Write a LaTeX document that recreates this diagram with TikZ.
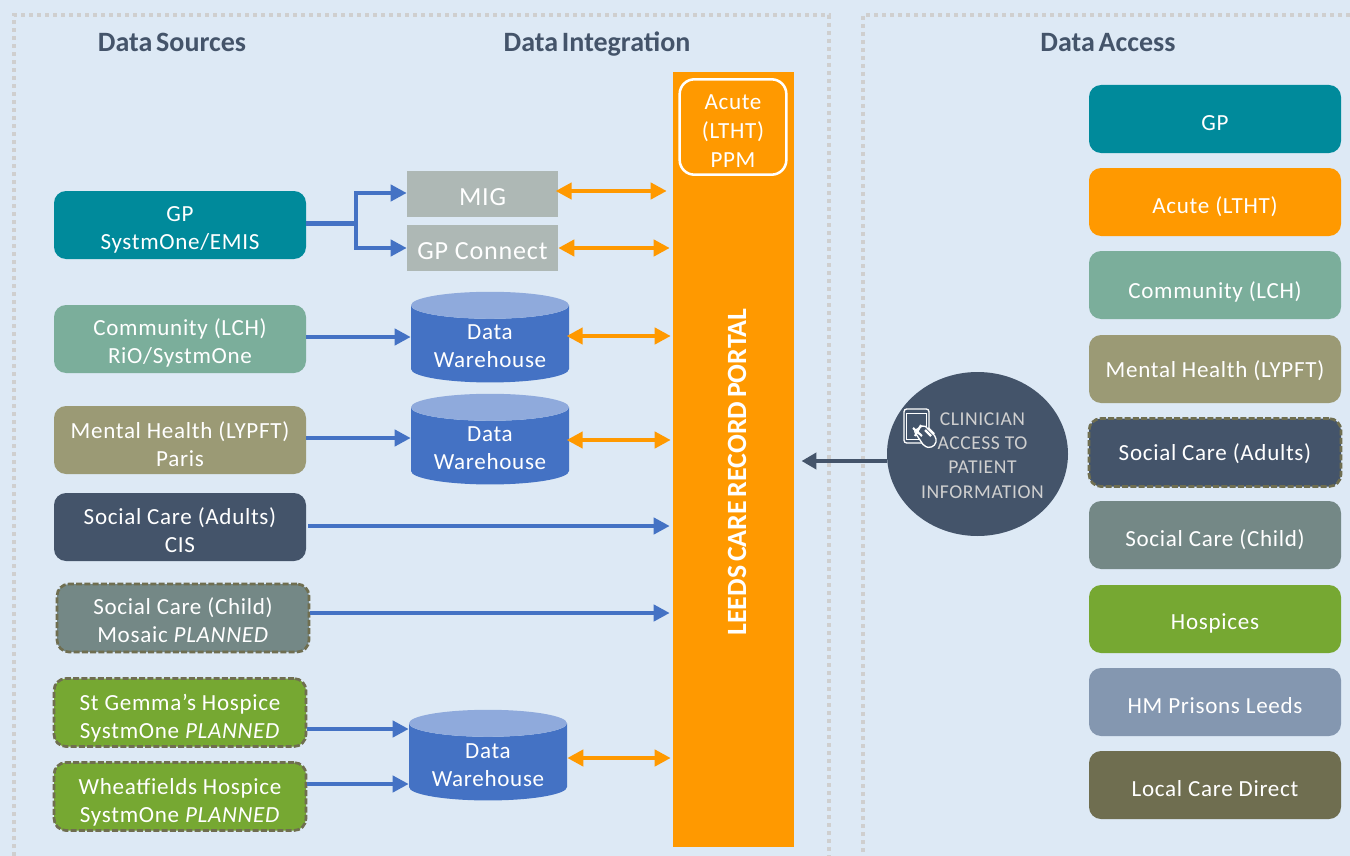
\documentclass[tikz,border=0pt]{standalone}
\usepackage{fontspec}
\setmainfont{Carlito}[LetterSpace=3]
\newfontfamily\headfont{Carlito}[LetterSpace=0,WordSpace=0.6]
\usetikzlibrary{arrows.meta,shapes.geometric}
\definecolor{bgc}{HTML}{DDE9F5}
\definecolor{frm}{HTML}{CFCFCF}
\definecolor{teal}{HTML}{008A9B}
\definecolor{comm}{HTML}{7BAE9B}
\definecolor{ment}{HTML}{9B9A75}
\definecolor{navy}{HTML}{44546A}
\definecolor{chld}{HTML}{748886}
\definecolor{hosp}{HTML}{76A832}
\definecolor{pris}{HTML}{8497B0}
\definecolor{locl}{HTML}{6F6E50}
\definecolor{gry}{HTML}{AEB8B5}
\definecolor{org}{HTML}{FF9900}
\definecolor{blu}{HTML}{4472C4}
\definecolor{blt}{HTML}{8FAADC}
\newcommand\liftv{19pt}
\newcommand\up[1]{\rule{0pt}{#1pt}}
\tikzset{
  x=0.75pt,y=-0.75pt,
  lift/.code={\def\liftv{#1pt}},
  frame/.style={draw=frm,line width=2.6pt,dash pattern=on 3pt off 3pt},
  head/.style={font=\headfont\bfseries\fontsize{21}{25}\selectfont,text=navy,inner sep=0pt,anchor=base},
  tb/.style={execute at begin node=\rule{0pt}{\liftv},execute at end node=\rule[-4pt]{0pt}{4pt}},
  box/.style={tb,rounded corners=9pt,minimum width=189pt,minimum height=51pt,inner sep=0pt,text=white,align=center,
     font=\fontsize{17.3}{21}\selectfont},
  planned/.style={draw=locl,line width=2pt,dash pattern=on 4.5pt off 1.7pt},
  grybox/.style={fill=gry,minimum width=113.25pt,minimum height=34.5pt,inner sep=0pt,text=white,font=\fontsize{19.6}{22}\selectfont,
     execute at begin node=\rule{0pt}{20.6pt},execute at end node=\rule[-4pt]{0pt}{4pt}},
  dw/.style={cylinder,shape border rotate=90,aspect=0.24,cylinder uses custom fill,cylinder body fill=blu,cylinder end fill=blt,
     minimum width=118.5pt,minimum height=68pt,inner sep=0pt,align=center,font=\fontsize{17.3}{21}\selectfont},
  dwtext/.style={inner sep=0pt,text=white,align=center,font=\fontsize{17.3}{21}\selectfont},
  barr/.style={draw=blu,line width=3.2pt,-{Triangle[length=12pt,width=12pt]}},
  oarr/.style={draw=org,line width=3.1pt,{Triangle[length=12pt,width=12pt]}-{Triangle[length=12pt,width=12pt]}},
}
\begin{document}
\begin{tikzpicture}
\useasboundingbox (0,0) rectangle (1350,856);
\fill[bgc] (0,0) rectangle (1350,856);
\draw[frame] (14,856) -- (14,15) -- (829,15) -- (829,856);
\draw[frame] (1350,15) -- (863,15) -- (863,856);
\node[head] (h1) at (172,52) {Data Sources};
\node[head] (h2) at (597,52) {Data Integration};
\node[head] (h3) at (1108,52) {Data Access};
% portal
\node[fill=org,minimum width=90.75pt,minimum height=581.25pt,inner sep=0pt] (portal) at (733.5,459.5) {};
\node[rotate=90,text=white,inner sep=0pt,font=\headfont\bfseries\fontsize{20.9}{24}\selectfont] (ptxt) at (737,472) {LEEDS CARE RECORD PORTAL};
\node[tb,lift=0,draw=white,line width=1.9pt,rounded corners=11pt,minimum width=80pt,minimum height=71.5pt,inner sep=0pt,text=white,align=center,
   font=\fontsize{17.3}{21.5}\selectfont] (acute) at (733,127) {\up{21}Acute\\(LTHT)\\PPM};
% sources
\node[box,lift=0,fill=teal] (s1) at (180,225) {\up{19}GP\\SystmOne/EMIS};
\node[box,lift=0,fill=comm] (s2) at (180,339) {\up{20}Community (LCH)\\RiO/SystmOne};
\node[box,lift=0,fill=ment] (s3) at (180,440) {\up{23}Mental Health (LYPFT)\\Paris};
\node[box,lift=0,fill=navy] (s4) at (180,527) {\up{20.5}Social Care (Adults)\\CIS};
\node[box,lift=0,fill=chld,planned] (s5) at (183,618) {\up{20}Social Care (Child)\\Mosaic \textit{PLANNED}};
\node[box,lift=0,fill=hosp,planned] (s6) at (180,712.5) {\up{22}St Gemma’s Hospice\\SystmOne \textit{PLANNED}};
\node[box,lift=0,fill=hosp,planned] (s7) at (180,796.5) {\up{22}Wheatfields Hospice\\SystmOne \textit{PLANNED}};
% integration
\node[grybox] (mig) at (482.5,194) {MIG};
\node[grybox] (gpc) at (482.5,248) {GP Connect};
\node[dw] (d1) at (490,344) {\phantom{Data}\\\phantom{Warehouse}};
\node[dw] (d2) at (490,446) {\phantom{Data}\\\phantom{Warehouse}};
\node[dw] (d3) at (488,762) {\phantom{Data}\\\phantom{Warehouse}};
\node[dwtext] (d1t) at (490,346) {Data\\Warehouse};
\node[dwtext] (d2t) at (490,448) {Data\\Warehouse};
\node[dwtext] (d3t) at (488,765) {Data\\Warehouse};
% access
\node[box,lift=20.5,fill=teal] (a1) at (1215,119) {GP};
\node[box,lift=20.5,fill=org] (a2) at (1215,202) {Acute (LTHT)};
\node[box,lift=23.5,fill=comm] (a3) at (1215,285) {Community (LCH)};
\node[box,lift=16,fill=ment] (a4) at (1215,369) {Mental Health (LYPFT)};
\node[box,lift=16,fill=navy,planned] (a5) at (1215,452.5) {Social Care (Adults)};
\node[box,lift=20.5,fill=chld] (a6) at (1215,535) {Social Care (Child)};
\node[box,lift=19,fill=hosp] (a7) at (1215,619) {Hospices};
\node[box,lift=20.5,fill=pris] (a8) at (1215,702) {HM Prisons Leeds};
\node[box,lift=20.5,fill=locl] (a9) at (1215,785) {Local Care Direct};
% clinician
\node[ellipse,fill=navy,minimum width=135.75pt,minimum height=123pt,inner sep=0pt] (cl) at (977.5,454) {};
\node[text=frm,inner sep=0pt,align=center,font=\fontsize{14.7}{18.3}\selectfont] (cltxt) at (982.5,455.5) {CLINICIAN\\ACCESS TO\\PATIENT\\INFORMATION};
% icon
\draw[white,line width=1pt,rounded corners=2pt] (904,409) rectangle (929,443);
\draw[white,line width=0.7pt] (906.5,413) rectangle (926.5,439);
\draw[white,fill=navy,line width=1pt,rounded corners=1.5pt] (914,431) -- (924,425) -- (936,437) -- (936,444) -- (930,448) -- (924,446) -- cycle;
\draw[white,line width=1.6pt] (913,428) -- (922,436) (921,425) -- (915,436) (925,430) -- (931,436) (928,428) -- (934,434);
% connectors
\coordinate (jt) at (356,193);
\coordinate (jb) at (356,248);
\coordinate (y1) at (0,223.5);
\draw[draw=blu,line width=3.2pt] (s1.east |- y1) -- (jt |- y1);
\draw[barr] (jt |- y1) -- (jt) -- (mig.west |- jt);
\draw[barr] (jb |- y1) -- (jb) -- (gpc.west |- jb);
\coordinate (y2) at (0,337);
\draw[barr] (s2.east |- y2) -- (d1.west |- y2);
\coordinate (y3) at (0,438);
\draw[barr] (s3.east |- y3) -- (d2.west |- y3);
\coordinate (y4) at (0,526);
\draw[barr,shorten <=1.5pt,shorten >=2.25pt] (s4.east |- y4) -- (portal.west |- y4);
\coordinate (y5) at (0,613);
\draw[barr,shorten >=2.25pt] (s5.east |- y5) -- (portal.west |- y5);
\coordinate (y6) at (0,729);
\draw[barr] (s6.east |- y6) -- (d3.west |- y6);
\coordinate (y7) at (0,784);
\draw[barr] (s7.east |- y7) -- (d3.west |- y7);
\coordinate (o1) at (0,191);
\draw[oarr,shorten <=-2pt,shorten >=4.5pt] (mig.east |- o1) -- (portal.west |- o1);
\coordinate (o2) at (0,248);
\draw[oarr,shorten >=2.25pt] (gpc.east |- o2) -- (portal.west |- o2);
\coordinate (o3) at (0,336);
\draw[oarr,shorten >=1.5pt,shorten <=-2pt] (d1.east |- o3) -- (portal.west |- o3);
\coordinate (o4) at (0,440);
\draw[oarr,shorten >=1.5pt,shorten <=-2pt] (d2.east |- o4) -- (portal.west |- o4);
\coordinate (o5) at (0,758);
\draw[oarr,shorten >=1.5pt,shorten <=0pt] (d3.east |- o5) -- (portal.west |- o5);
\coordinate (yc) at (0,461);
\draw[draw=navy,line width=2.6pt,-{Triangle[length=11pt,width=12pt]},shorten >=5.5pt] (cl.west |- yc) -- (portal.east |- yc);
\end{tikzpicture}
\end{document}
